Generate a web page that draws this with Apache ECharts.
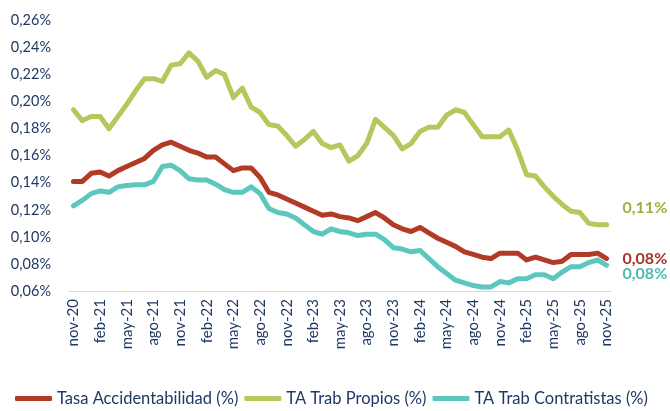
<!DOCTYPE html>
<html>
<head>
<meta charset="utf-8">
<script src="https://cdn.jsdelivr.net/npm/echarts@6/dist/echarts.min.js"></script>
<style>
  html, body { margin: 0; padding: 0; background: #fff; }
  #chart { width: 670px; height: 411px; }
</style>
</head>
<body>
<div id="chart"></div>
<script>
const months = [
  'nov-20','dic-20','ene-21','feb-21','mar-21','abr-21','may-21','jun-21','jul-21','ago-21','sep-21','oct-21',
  'nov-21','dic-21','ene-22','feb-22','mar-22','abr-22','may-22','jun-22','jul-22','ago-22','sep-22','oct-22',
  'nov-22','dic-22','ene-23','feb-23','mar-23','abr-23','may-23','jun-23','jul-23','ago-23','sep-23','oct-23',
  'nov-23','dic-23','ene-24','feb-24','mar-24','abr-24','may-24','jun-24','jul-24','ago-24','sep-24','oct-24',
  'nov-24','dic-24','ene-25','feb-25','mar-25','abr-25','may-25','jun-25','jul-25','ago-25','sep-25','oct-25',
  'nov-25'
]

const tasaAccidentabilidad = [
  0.141, 0.141, 0.147, 0.148, 0.145, 0.149, 0.152, 0.155, 0.158, 0.164, 0.168, 0.170,
  0.167, 0.164, 0.162, 0.159, 0.159, 0.154, 0.149, 0.151, 0.151, 0.144, 0.133, 0.131,
  0.128, 0.125, 0.122, 0.119, 0.116, 0.117, 0.115, 0.114, 0.112, 0.115, 0.118, 0.114,
  0.109, 0.106, 0.104, 0.107, 0.103, 0.099, 0.096, 0.093, 0.089, 0.087, 0.085, 0.084,
  0.088, 0.088, 0.088, 0.083, 0.085, 0.083, 0.081, 0.082, 0.087, 0.087, 0.087, 0.088,
  0.084
]

const taPropios = [
  0.194, 0.186, 0.189, 0.189, 0.180, 0.189, 0.198, 0.208, 0.217, 0.217, 0.215, 0.227,
  0.228, 0.236, 0.230, 0.218, 0.223, 0.220, 0.203, 0.210, 0.196, 0.192, 0.183, 0.182,
  0.175, 0.167, 0.172, 0.178, 0.169, 0.166, 0.168, 0.156, 0.160, 0.169, 0.187, 0.181,
  0.175, 0.165, 0.169, 0.178, 0.181, 0.181, 0.190, 0.194, 0.192, 0.183, 0.174, 0.174,
  0.174, 0.179, 0.164, 0.146, 0.145, 0.137, 0.130, 0.124, 0.119, 0.118, 0.110, 0.109,
  0.109
]

const taContratistas = [
  0.123, 0.127, 0.132, 0.134, 0.133, 0.137, 0.138, 0.1385, 0.1385, 0.141, 0.152, 0.153,
  0.149, 0.143, 0.142, 0.142, 0.139, 0.135, 0.133, 0.133, 0.137, 0.132, 0.121, 0.118,
  0.117, 0.114, 0.109, 0.104, 0.102, 0.106, 0.104, 0.103, 0.101, 0.102, 0.102, 0.098,
  0.092, 0.091, 0.089, 0.090, 0.084, 0.078, 0.073, 0.068, 0.066, 0.064, 0.063, 0.063,
  0.067, 0.066, 0.069, 0.069, 0.072, 0.072, 0.069, 0.074, 0.078, 0.078, 0.081, 0.083,
  0.079
]

const yTicks = { min: 0.06, max: 0.26, step: 0.02 }

const fmtPct = (v) => v.toFixed(2).replace('.', ',') + '%'
const FONT = 'Lato'
const NAVY = '#1f3864'

const chart = echarts.init(document.getElementById('chart'))

function lineSeries(name, data, color, labelColor, offset) {
  return {
    name,
    type: 'line',
    data,
    symbol: 'none',
    lineStyle: { color, width: 5, cap: 'round', join: 'round' },
    itemStyle: { color },
    endLabel: {
      show: true,
      formatter: (p) => fmtPct(p.value),
      color: labelColor,
      fontFamily: FONT,
      fontSize: 16,
      fontWeight: 'bold',
      offset,
    },
    z: name === 'TA Trab Contratistas (%)' ? 2 : 3,
  }
}

chart.setOption({
  animation: false,
  grid: { left: 69, right: 59, top: 20.5, bottom: 120 },
  legend: {
    bottom: -1,
    left: 10,
    icon: 'roundRect',
    itemWidth: 37,
    itemHeight: 5,
    itemGap: 6,
    textStyle: { color: NAVY, fontFamily: FONT, fontSize: 16.5 },
    data: ['Tasa Accidentabilidad (%)', 'TA Trab Propios (%)', 'TA Trab Contratistas (%)'],
  },
  xAxis: {
    type: 'category',
    data: months,
    boundaryGap: true,
    axisLine: { lineStyle: { color: '#d9d9d9', width: 1 } },
    axisTick: { interval: 2, length: 5, lineStyle: { color: '#d9d9d9' } },
    axisLabel: {
      interval: 2,
      rotate: 90,
      margin: 8,
      color: NAVY,
      fontFamily: FONT,
      fontSize: 15,
    },
  },
  yAxis: {
    type: 'value',
    min: yTicks.min,
    max: yTicks.max,
    interval: yTicks.step,
    axisLine: { show: false },
    axisTick: { show: false },
    splitLine: { show: false },
    axisLabel: {
      color: NAVY,
      fontFamily: FONT,
      fontSize: 14.5,
      margin: 18,
      formatter: fmtPct,
    },
  },
  series: [
    lineSeries('Tasa Accidentabilidad (%)', tasaAccidentabilidad, '#b23a26', '#a6342a', [8, 0]),
    lineSeries('TA Trab Propios (%)', taPropios, '#b4c85c', '#9db043', [8, -17]),
    lineSeries('TA Trab Contratistas (%)', taContratistas, '#5bc7bd', '#4dbab0', [8, 9]),
  ],
})
</script>
</body>
</html>
